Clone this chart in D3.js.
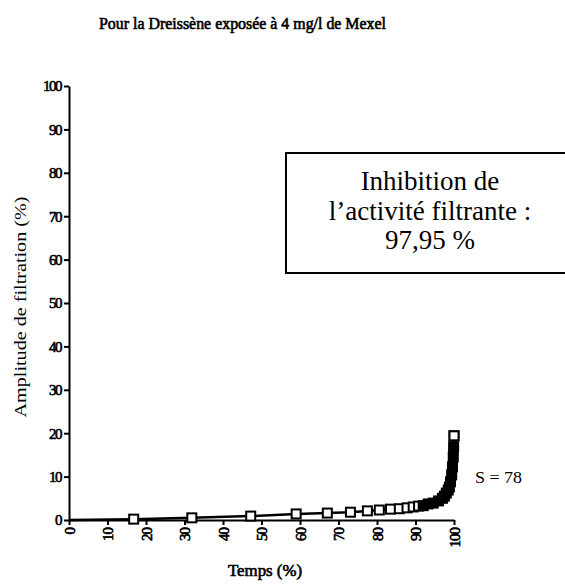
<!DOCTYPE html>
<html>
<head>
<meta charset="utf-8">
<script src="https://cdn.jsdelivr.net/npm/d3@7"></script>
<style>
  body { margin: 0; background: #fff; overflow: hidden; }
  svg text { font-family: "Liberation Serif", "Times New Roman", serif; fill: #000; }
  .bold { stroke: #000; stroke-width: 0.6px; }
</style>
</head>
<body>
<svg id="chart" width="565" height="587"></svg>
<script>
// values
var tempsPct = [0, 16.8, 31.9, 47.2, 59.0, 67.1, 73.1, 77.5, 80.6, 83.5, 85.8, 87.8, 89.4,
                90.8, 92.0, 93.3, 94.6, 96.0, 97.0, 97.5, 98.0, 98.5, 98.8, 99.1, 99.4, 99.6, 99.8, 99.9, 100];
var amplitude = [0, 0.2, 0.5, 0.9, 1.4, 1.6, 1.8, 2.1, 2.3, 2.5, 2.6, 2.8, 3.0,
                 3.2, 3.3, 3.7, 3.9, 4.4, 5.0, 5.5, 6.2, 6.9, 7.6, 8.8, 10.4, 12.2, 14.5, 16.9, 19.4];
var xTicks = [0, 10, 20, 30, 40, 50, 60, 70, 80, 90, 100];
var yTicks = [0, 10, 20, 30, 40, 50, 60, 70, 80, 90, 100];
var boxLines = ["Inhibition de", "l\u2019activit\u00e9 filtrante :", "97,95 %"];

var svg = d3.select("#chart");
var x = d3.scaleLinear().domain([0, 100]).range([69, 454]);
var y = d3.scaleLinear().domain([0, 100]).range([520, 86]);

var data = tempsPct.map(function(t, i) { return {t: t, a: amplitude[i]}; });

// title
svg.append("text").attr("class", "bold").attr("x", 99).attr("y", 29)
    .style("font-size", "16px")
    .attr("textLength", 287).attr("lengthAdjust", "spacingAndGlyphs")
    .text("Pour la Dreissène exposée à 4 mg/l de Mexel");

// y axis
var gy = svg.append("g").attr("transform", "translate(" + x(0) + ",0)")
    .call(d3.axisLeft(y).tickValues(yTicks).tickSize(5).tickSizeOuter(0).tickPadding(3));
gy.select(".domain").attr("stroke-width", 2);
gy.selectAll(".tick line").attr("stroke-width", 2);
gy.selectAll(".tick text").attr("class", "bold")
    .style("font-size", "15px").style("letter-spacing", "-1.5px");

// x axis
var gx = svg.append("g").attr("transform", "translate(0," + y(0) + ")")
    .call(d3.axisBottom(x).tickValues(xTicks).tickSize(5).tickSizeOuter(0));
gx.select(".domain").attr("stroke-width", 2);
gx.selectAll(".tick line").attr("stroke-width", 2);
gx.selectAll(".tick text").attr("class", "bold")
    .style("font-size", "15px").style("letter-spacing", "-1px")
    .attr("text-anchor", "end")
    .attr("transform", "rotate(-90)")
    .attr("x", -8).attr("y", 0).attr("dy", "0.35em");

// axis titles
svg.append("text").attr("transform", "translate(26,307) rotate(-90)")
    .attr("text-anchor", "middle").style("font-size", "17px")
    .attr("textLength", 221).attr("lengthAdjust", "spacingAndGlyphs")
    .text("Amplitude de filtration (%)");
svg.append("text").attr("class", "bold").attr("x", 228).attr("y", 576)
    .style("font-size", "16px")
    .attr("textLength", 74).attr("lengthAdjust", "spacingAndGlyphs")
    .text("Temps (%)");

// curve
var line = d3.line().x(function(d) { return x(d.t); }).y(function(d) { return y(d.a); });
svg.append("path").datum(data).attr("d", line)
    .attr("fill", "none").attr("stroke", "#000").attr("stroke-width", 2.5);

svg.selectAll(".pt").data(data.slice(1)).enter().append("rect")
    .attr("class", "pt")
    .attr("x", function(d) { return x(d.t) - 4.5; })
    .attr("y", function(d) { return y(d.a) - 4.5; })
    .attr("width", 9).attr("height", 9)
    .attr("fill", "#fff").attr("stroke", "#000").attr("stroke-width", 2);

// dense tail: overlapping points merge into a solid band
var tail = data.filter(function(d) { return d.t >= 92 && d.t < 100; });
svg.append("path").datum(tail).attr("d", line)
    .attr("fill", "none").attr("stroke", "#000").attr("stroke-width", 10)
    .attr("stroke-linejoin", "round").attr("stroke-linecap", "round");

var last = data[data.length - 1];
svg.append("rect")
    .attr("x", x(last.t) - 4.5).attr("y", y(last.a) - 4.5)
    .attr("width", 9).attr("height", 9)
    .attr("fill", "#fff").attr("stroke", "#000").attr("stroke-width", 2);

svg.append("text").attr("x", 475).attr("y", 483).style("font-size", "17px")
    .attr("textLength", 47).attr("lengthAdjust", "spacingAndGlyphs")
    .text("S = 78");

// annotation box (runs past the right edge in the scan)
svg.append("rect").attr("x", 286).attr("y", 153).attr("width", 300).attr("height", 120)
    .attr("fill", "none").attr("stroke", "#000").attr("stroke-width", 2);
svg.selectAll(".boxline").data(boxLines).enter().append("text")
    .attr("class", "boxline")
    .attr("x", 430)
    .attr("y", function(d, i) { return 190 + i * 29.5; })
    .attr("text-anchor", "middle").style("font-size", "27px")
    .text(function(d) { return d; });
</script>
</body>
</html>
